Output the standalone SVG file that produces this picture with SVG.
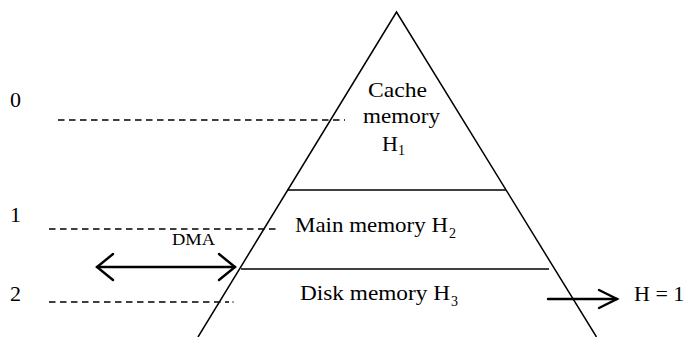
<svg xmlns="http://www.w3.org/2000/svg" width="685" height="337" viewBox="0 0 685 337">
<style>
text{font-family:"Liberation Serif","Times New Roman",serif;fill:#000;font-size:22px}
.sub{font-size:14px}
.dma{font-size:16px}
.edge{stroke:#000;stroke-width:1.5;fill:none}
.lvl{stroke:#000;stroke-width:1.6;fill:none}
.dash{stroke:#000;stroke-width:1.4;stroke-dasharray:6.5 4.5;fill:none}
.arr{stroke:#000;stroke-width:2.4;fill:none;stroke-linecap:round;stroke-linejoin:miter}
</style>
<rect width="685" height="337" fill="#fff"/>
<g id="pyramid">
<polyline class="edge" points="198,337 396.5,12 596.5,337"/>
<line class="lvl" x1="287" y1="190" x2="506" y2="190"/>
<line class="lvl" x1="241" y1="269" x2="549" y2="269"/>
</g>
<g id="cache">
<text x="368" y="97" textLength="59" lengthAdjust="spacingAndGlyphs">Cache</text>
<text x="363" y="123" textLength="77" lengthAdjust="spacingAndGlyphs">memory</text>
<text x="382" y="151">H</text>
<text class="sub" x="398" y="155">1</text>
</g>
<g id="main">
<text x="295" y="232" textLength="153" lengthAdjust="spacingAndGlyphs">Main memory H</text>
<text class="sub" x="449" y="238">2</text>
</g>
<g id="disk">
<text x="300" y="300" textLength="150" lengthAdjust="spacingAndGlyphs">Disk memory H</text>
<text class="sub" x="451" y="306">3</text>
</g>
<g id="levels">
<text x="10" y="107">0</text>
<text x="10" y="222">1</text>
<text x="10" y="301">2</text>
</g>
<g id="connectors">
<line class="dash" x1="58" y1="120" x2="345" y2="120"/>
<line class="dash" x1="49" y1="229" x2="279" y2="229"/>
<line class="dash" x1="49" y1="302" x2="229" y2="302"/>
<circle cx="233" cy="302" r="0.7" fill="#000"/>
<line class="arr" x1="97" y1="267" x2="235" y2="267"/>
<polyline class="arr" points="113,254 97,267 113,280"/>
<polyline class="arr" points="219,254 235,267 219,280"/>
<line class="arr" x1="548" y1="299" x2="617" y2="299"/>
<polyline class="arr" points="599,290 617,299 599,308"/>
</g>
<g id="dma-label">
<text class="dma" x="172" y="245" textLength="43" lengthAdjust="spacingAndGlyphs">DMA</text>
</g>
<g id="hit">
<text x="634" y="301">H = 1</text>
</g>
</svg>
